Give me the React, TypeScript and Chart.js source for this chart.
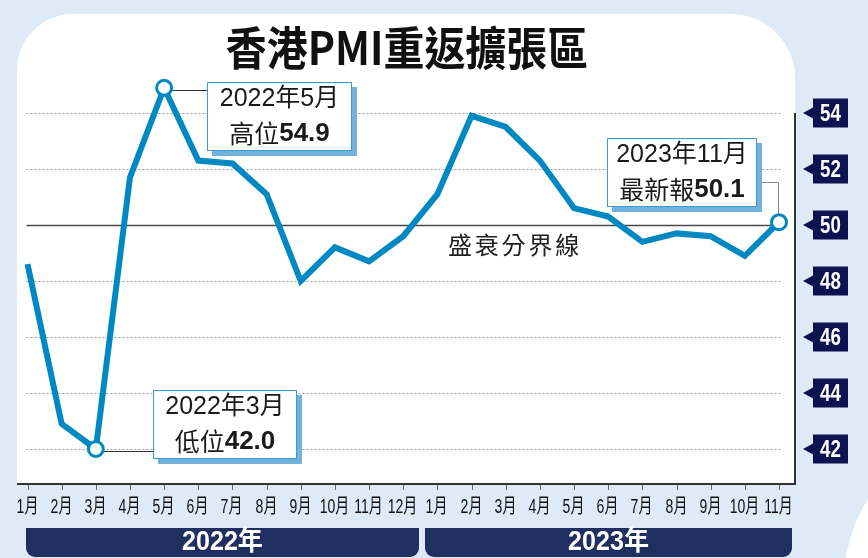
import React, { useEffect, useRef } from "react";
import { Chart, registerables } from "chart.js";

Chart.register(...registerables);

// ---------- data ----------
const monthLabels = [
  "1月", "2月", "3月", "4月", "5月", "6月", "7月", "8月", "9月", "10月", "11月", "12月",
  "1月", "2月", "3月", "4月", "5月", "6月", "7月", "8月", "9月", "10月", "11月",
];
const yearLabels = ["2022年", "2023年"];
const pmiValues = [
  48.6, 42.9, 42.0, 51.7, 54.9, 52.3, 52.2, 51.1, 48.0, 49.2, 48.7, 49.6,
  51.1, 53.9, 53.5, 52.3, 50.6, 50.3, 49.4, 49.7, 49.6, 48.9, 50.1,
];
const yTickValues = [42, 44, 46, 48, 50, 52, 54];
const boundaryValue = 50;
const titleText = "香港PMI重返擴張區";
const boundaryText = "盛衰分界線";
const calloutIndices = [4, 2, 22];
const calloutLine1 = ["2022年5月", "2022年3月", "2023年11月"];
const calloutPrefix = ["高位", "低位", "最新報"];
const calloutValue = ["54.9", "42.0", "50.1"];

// ---------- styles ----------
const BG = "#deebf6";
const LINE = "#0088c2";
const NAVY_BAR = "#1f2f5f";
const NAVY_TICK = "#0b1450";
const CJK = "'Noto Sans CJK TC'";
const LAT = "'Liberation Sans'";

const boxRects = [
  { x: 207, y: 82, w: 145, h: 69 },
  { x: 153, y: 390, w: 144, h: 69 },
  { x: 607, y: 138, w: 150, h: 69 },
];
const yearBars = [
  { x: 26, w: 393 },
  { x: 425, w: 367 },
];

function drawCondensed(ctx: CanvasRenderingContext2D, text: string, x: number, y: number, sx: number) {
  ctx.save();
  ctx.translate(x, y);
  ctx.scale(sx, 1);
  ctx.fillText(text, 0, 0);
  ctx.restore();
}

const decorPlugin = {
  id: "decor",
  beforeDraw(chart: any) {
    const ctx: CanvasRenderingContext2D = chart.ctx;
    const W = chart.width, H = chart.height;
    const xs = chart.scales.x, ys = chart.scales.y;
    ctx.save();
    // background
    ctx.fillStyle = BG;
    ctx.fillRect(0, 0, W, H);
    // white arc bottom-right
    ctx.fillStyle = "#ffffff";
    ctx.beginPath();
    ctx.arc(1000, 582, 156, 0, Math.PI * 2);
    ctx.fill();
    // white panel
    const L = 17, R = 795, T = 14, B = 484, rl = 56, rr = 64;
    ctx.beginPath();
    ctx.moveTo(L, B);
    ctx.lineTo(L, T + rl);
    ctx.arcTo(L, T, L + rl, T, rl);
    ctx.lineTo(R - rr, T);
    ctx.arcTo(R, T, R, T + rr, rr);
    ctx.lineTo(R, B);
    ctx.closePath();
    ctx.fill();

    // title
    ctx.fillStyle = "#111";
    ctx.font = `bold 46px ${CJK}`;
    ctx.textBaseline = "middle";
    ctx.textAlign = "center";
    drawCondensed(ctx, titleText, 407, 48, 0.89);

    // axes frame
    ctx.fillStyle = "#333";
    ctx.fillRect(17, 483, 779, 2);
    const y54 = ys.getPixelForValue(yTickValues[yTickValues.length - 1]);
    ctx.fillRect(794, y54, 2, 485 - y54);

    // x ticks and labels
    ctx.strokeStyle = "#666";
    ctx.lineWidth = 1;
    ctx.fillStyle = "#111";
    ctx.font = `20px ${LAT}, ${CJK}`;
    ctx.textAlign = "center";
    ctx.textBaseline = "middle";
    monthLabels.forEach((lab, i) => {
      const px = Math.round(xs.getPixelForValue(i)) + 0.5;
      ctx.beginPath();
      ctx.moveTo(px, 485);
      ctx.lineTo(px, 490);
      ctx.stroke();
      drawCondensed(ctx, lab, px - 1, 507, 0.7);
    });

    // year bars
    yearBars.forEach((b, i) => {
      ctx.fillStyle = NAVY_BAR;
      ctx.beginPath();
      (ctx as any).roundRect(b.x, 528, b.w, 29, [0, 0, 9, 9]);
      ctx.fill();
      ctx.fillStyle = "#fff";
      ctx.font = `bold 27px ${LAT}, ${CJK}`;
      drawCondensed(ctx, yearLabels[i], b.x + b.w / 2, 543, 0.93);
    });

    // right y tick labels
    yTickValues.forEach((t) => {
      const py = ys.getPixelForValue(t);
      ctx.fillStyle = NAVY_TICK;
      ctx.fillRect(813, py - 14.5, 35, 29);
      ctx.beginPath();
      ctx.moveTo(803, py);
      ctx.lineTo(814, py - 6);
      ctx.lineTo(814, py + 6);
      ctx.closePath();
      ctx.fill();
      ctx.fillStyle = "#fff";
      ctx.font = `bold 24px ${LAT}`;
      drawCondensed(ctx, String(t), 830.5, py + 1, 0.78);
    });
    ctx.restore();
  },
  beforeDatasetsDraw(chart: any) {
    const ctx: CanvasRenderingContext2D = chart.ctx;
    const xs = chart.scales.x, ys = chart.scales.y;
    const area = chart.chartArea;
    ctx.save();
    // dotted gridlines
    ctx.strokeStyle = "#9a9a9a";
    ctx.lineWidth = 1;
    ctx.setLineDash([2, 2]);
    yTickValues.forEach((t) => {
      if (t === boundaryValue) return;
      const py = Math.round(ys.getPixelForValue(t)) + 0.5;
      ctx.beginPath();
      ctx.moveTo(area.left - 1, py);
      ctx.lineTo(area.right + 2, py);
      ctx.stroke();
    });
    ctx.setLineDash([]);
    // boundary line
    const by = Math.round(ys.getPixelForValue(boundaryValue)) + 0.5;
    ctx.strokeStyle = "#4a4a4a";
    ctx.lineWidth = 1.3;
    ctx.beginPath();
    ctx.moveTo(area.left - 1, by);
    ctx.lineTo(area.right - 1, by);
    ctx.stroke();
    // boundary label
    ctx.fillStyle = "#222";
    ctx.font = `24px ${CJK}`;
    ctx.textAlign = "left";
    ctx.textBaseline = "middle";
    let lx = 448;
    Array.from(boundaryText).forEach((c) => { ctx.fillText(c, lx, 245); lx += 26.8; });

    // connectors
    ctx.lineWidth = 1;
    calloutIndices.forEach((idx, k) => {
      const px = xs.getPixelForValue(idx);
      const py = ys.getPixelForValue(pmiValues[idx]);
      const b = boxRects[k];
      ctx.beginPath();
      if (k === 2) {
        ctx.strokeStyle = "#888";
        const cy = Math.round(b.y + 44) + 0.5;
        ctx.moveTo(b.x + b.w, cy);
        ctx.lineTo(Math.round(px) - 0.5, cy);
        ctx.lineTo(Math.round(px) - 0.5, py - 8);
      } else {
        ctx.strokeStyle = "#333";
        const cy = Math.round(py + 2) + 0.5;
        ctx.moveTo(px, cy);
        ctx.lineTo(b.x, cy);
      }
      ctx.stroke();
    });
    ctx.restore();
  },
  afterDatasetsDraw(chart: any) {
    const ctx: CanvasRenderingContext2D = chart.ctx;
    ctx.save();
    boxRects.forEach((b, k) => {
      ctx.fillStyle = "#72b2dc";
      ctx.fillRect(b.x + 5, b.y + 5, b.w, b.h);
      ctx.fillStyle = "#ffffff";
      ctx.fillRect(b.x, b.y, b.w, b.h);
      ctx.strokeStyle = "#3d9ad0";
      ctx.lineWidth = 1;
      ctx.strokeRect(b.x + 0.5, b.y + 0.5, b.w - 1, b.h - 1);

      const cx = b.x + b.w / 2;
      ctx.fillStyle = "#1a1a1a";
      ctx.textBaseline = "middle";
      ctx.textAlign = "center";
      ctx.font = `25px ${LAT}, ${CJK}`;
      ctx.fillText(calloutLine1[k], cx, b.y + 17);
      // line 2: regular prefix + bold value
      ctx.textAlign = "left";
      const pFont = `25px ${CJK}`;
      const vFont = `bold 26px ${LAT}`;
      ctx.font = pFont;
      const pw = ctx.measureText(calloutPrefix[k]).width;
      ctx.font = vFont;
      const vw = ctx.measureText(calloutValue[k]).width;
      const sx = cx - (pw + vw) / 2;
      ctx.font = pFont;
      ctx.fillText(calloutPrefix[k], sx, b.y + 51);
      ctx.font = vFont;
      ctx.fillText(calloutValue[k], sx + pw, b.y + 52);
    });
    ctx.restore();
  },
};

export default function App() {
  const canvasRef = useRef<HTMLCanvasElement | null>(null);

  useEffect(() => {
    const canvas = canvasRef.current;
    if (!canvas) return;
    const chart = new Chart(canvas, {
      type: "line",
      data: {
        labels: monthLabels,
        datasets: [
          {
            data: pmiValues,
            borderColor: LINE,
            borderWidth: 6,
            borderJoinStyle: "miter",
            tension: 0,
            fill: false,
            clip: false,
            pointRadius: (c: any) => (calloutIndices.includes(c.dataIndex) ? 7.5 : 0),
            pointBackgroundColor: "#ffffff",
            pointBorderColor: LINE,
            pointBorderWidth: 3,
          } as any,
        ],
      },
      options: {
        responsive: false,
        animation: false,
        devicePixelRatio: 1,
        events: [],
        layout: { padding: { left: 27.5, right: 89, top: 64, bottom: 74 } },
        scales: {
          x: { display: false, offset: false },
          y: { display: false, min: 40.75, max: 55.75 },
        },
        plugins: {
          legend: { display: false },
          tooltip: { enabled: false },
          title: { display: false },
        },
      },
      plugins: [decorPlugin as any],
    });
    return () => chart.destroy();
  }, []);

  return (
    <div style={{ position: "fixed", left: 0, top: 0, width: 868, height: 558 }}>
      <canvas ref={canvasRef} width={868} height={558} style={{ display: "block", width: 868, height: 558 }} />
    </div>
  );
}
